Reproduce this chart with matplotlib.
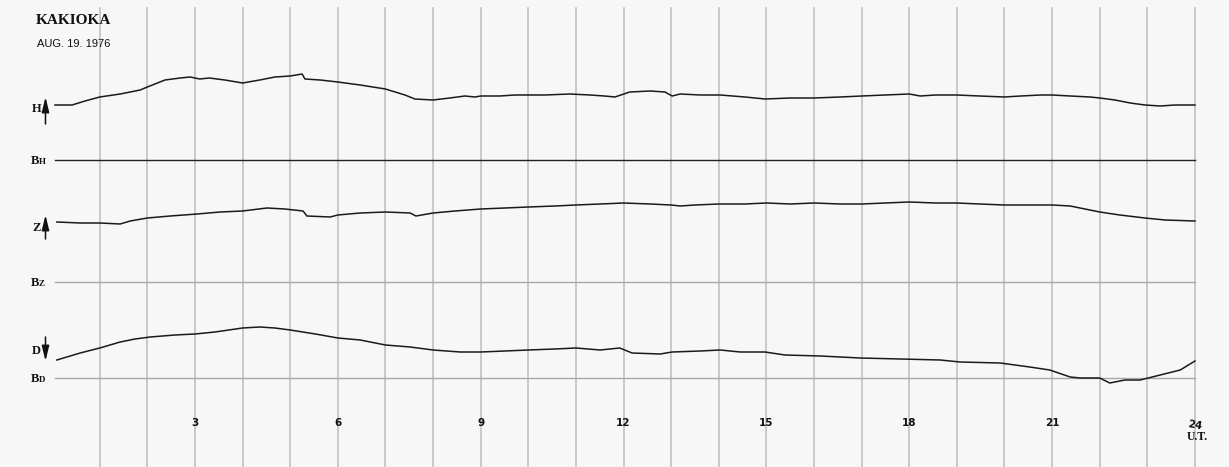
import matplotlib
matplotlib.use("Agg")
import matplotlib.pyplot as plt

# magnetogram KAKIOKA, 19 aug 1976 - horas UT y desviacion (en unidades de papel)
h_horas = [0.06, 0.42, 0.69, 1.0, 1.43, 1.85, 2.0, 2.37, 2.69, 2.9, 3.1, 3.3, 3.63, 4.0,
           4.36, 4.68, 5.0, 5.25, 5.31, 5.63, 6.0, 6.47, 7.0, 7.41, 7.62, 8.0, 8.35, 8.67,
           8.88, 9.0, 9.4, 9.72, 10.0, 10.35, 10.87, 11.3, 11.6, 11.82, 12.13, 12.56, 12.87,
           13.02, 13.19, 13.61, 14.03, 14.55, 14.97, 15.5, 16.0, 16.55, 17.0, 17.49, 18.0,
           18.23, 18.55, 19.0, 19.48, 20.0, 20.34, 20.76, 21.0, 21.38, 21.8, 22.0, 22.32,
           22.64, 22.95, 23.27, 23.58, 24.0]
h_valores = [55, 55, 59, 63, 66, 70, 73, 80, 82, 83, 81, 82, 80, 77,
             80, 83, 84, 86, 81, 80, 78, 75, 71, 65, 61, 60, 62, 64,
             63, 64, 64, 65, 65, 65, 66, 65, 64, 63, 68, 69, 68,
             64, 66, 65, 65, 63, 61, 62, 62, 63, 64, 65, 66,
             64, 65, 65, 64, 63, 64, 65, 65, 64, 63, 62, 60,
             57, 55, 54, 55, 55]

z_horas = [0.1, 0.59, 1.0, 1.43, 1.64, 2.0, 2.48, 3.05, 3.53, 4.0, 4.51, 4.89, 5.27, 5.35,
           5.84, 6.0, 6.47, 7.0, 7.52, 7.64, 8.0, 8.46, 9.0, 9.51, 10.0, 10.56, 11.0, 11.51,
           12.0, 12.56, 13.0, 13.19, 13.5, 14.0, 14.55, 15.0, 15.5, 16.0, 16.55, 17.0, 17.49,
           18.0, 18.55, 19.0, 19.48, 20.0, 20.53, 21.0, 21.38, 21.69, 22.0, 22.42, 22.95,
           23.37, 24.0]
z_valores = [60, 59, 59, 58, 61, 64, 66, 68, 70, 71, 74, 73, 71, 66,
             65, 67, 69, 70, 69, 66, 69, 71, 73, 74, 75, 76, 77, 78,
             79, 78, 77, 76, 77, 78, 78, 79, 78, 79, 78, 78, 79,
             80, 79, 79, 78, 77, 77, 77, 76, 73, 70, 67, 64,
             62, 61]

d_horas = [0.1, 0.59, 1.0, 1.43, 1.74, 2.06, 2.58, 3.0, 3.42, 4.0, 4.36, 4.68, 5.0, 5.53,
           6.0, 6.47, 7.0, 7.52, 8.0, 8.57, 9.0, 9.51, 10.0, 10.56, 11.0, 11.51, 11.92, 12.18,
           12.77, 13.02, 13.61, 14.03, 14.45, 14.97, 15.39, 16.13, 16.97, 17.81, 18.65, 19.07,
           19.91, 20.53, 20.95, 21.38, 21.59, 22.0, 22.21, 22.53, 22.85, 23.27, 23.69, 24.0]
d_valores = [18, 25, 30, 36, 39, 41, 43, 44, 46, 50, 51, 50, 48, 44,
             40, 38, 33, 31, 28, 26, 26, 27, 28, 29, 30, 28, 30, 25,
             24, 26, 27, 28, 26, 26, 23, 22, 20, 19, 18, 16,
             15, 11, 8, 1, 0, 0, -5, -2, -2, 3, 8, 17]

horas_marcadas = [3, 6, 9, 12, 15, 18, 21]

# posiciones en el papel (pixeles desde arriba)
base_h, base_z, base_d = 160, 282, 378
px0, px_hora = 52.1, 47.62


def px(x):
    # pixel horizontal -> hora
    return (x - px0) / px_hora


fig = plt.figure(figsize=(12.29, 4.67), dpi=100)
fig.patch.set_facecolor("#f7f7f7")
ax = fig.add_axes([0, 0, 1, 1])
ax.set_facecolor("#f7f7f7")
ax.set_xlim(px(0), px(1229))
ax.set_ylim(467, 0)
ax.axis("off")

# rejilla: una linea por hora
for hr in range(1, 25):
    ax.plot([hr, hr], [8, 467], color="#c2c2c2", lw=1.2, zorder=1)

# lineas base
ax.plot([px(55), 24], [base_h, base_h], color="#222222", lw=1.0, zorder=2)
ax.plot([px(55), 24], [base_z, base_z], color="#a8a8a8", lw=1.0, zorder=2)
ax.plot([px(55), 24], [base_d, base_d], color="#a8a8a8", lw=1.0, zorder=2)

# trazas
ax.plot(h_horas, [base_h - v for v in h_valores], color="#1a1a1a", lw=1.1, zorder=3)
ax.plot(z_horas, [base_z - v for v in z_valores], color="#1a1a1a", lw=1.1, zorder=3)
ax.plot(d_horas, [base_d - v for v in d_valores], color="#1a1a1a", lw=1.1, zorder=3)

# titulos
ax.text(px(36), 21, "KAKIOKA", family="Liberation Serif", weight="bold", fontsize=11,
        ha="left", va="center", color="#111111")
ax.text(px(37), 44, "AUG. 19. 1976", family="Liberation Sans", fontsize=8,
        ha="left", va="center", color="#111111")

# etiquetas de componentes
serif = dict(family="Liberation Serif", weight="bold", color="#111111", va="center", ha="left")
ax.text(px(32), 109, "H", fontsize=9, **serif)
ax.text(px(32), 228, "Z", fontsize=9, **serif)
ax.text(px(32), 351, "D", fontsize=9, **serif)
flecha = dict(arrowstyle="-|>,head_width=0.22,head_length=0.9", color="#111111", lw=1.1,
              shrinkA=0, shrinkB=0)
ax.annotate("", xy=(px(45.5), 97), xytext=(px(45.5), 124), arrowprops=flecha)
ax.annotate("", xy=(px(45.5), 215), xytext=(px(45.5), 239), arrowprops=flecha)
ax.annotate("", xy=(px(45.5), 361), xytext=(px(45.5), 337), arrowprops=flecha)

for y, letra in [(base_h, "H"), (base_z, "Z"), (base_d, "D")]:
    ax.text(px(31), y + 1, "B", fontsize=9, **serif)
    ax.text(px(39), y + 2, letra, fontsize=6.5, **serif)

# horas UT
for hr in horas_marcadas:
    ax.text(hr, 423, str(hr), family="DejaVu Sans", weight="bold", fontsize=7.5,
            ha="center", va="center", color="#111111")
ax.text(24, 425, "24", family="DejaVu Sans", weight="bold", fontsize=7.5,
        ha="center", va="center", color="#111111", rotation=-10)
ax.text(24.05, 437, "U.T.", family="Liberation Serif", weight="bold", fontsize=8.5,
        ha="center", va="center", color="#111111")

fig.savefig("out.png", dpi=100, facecolor=fig.get_facecolor())
